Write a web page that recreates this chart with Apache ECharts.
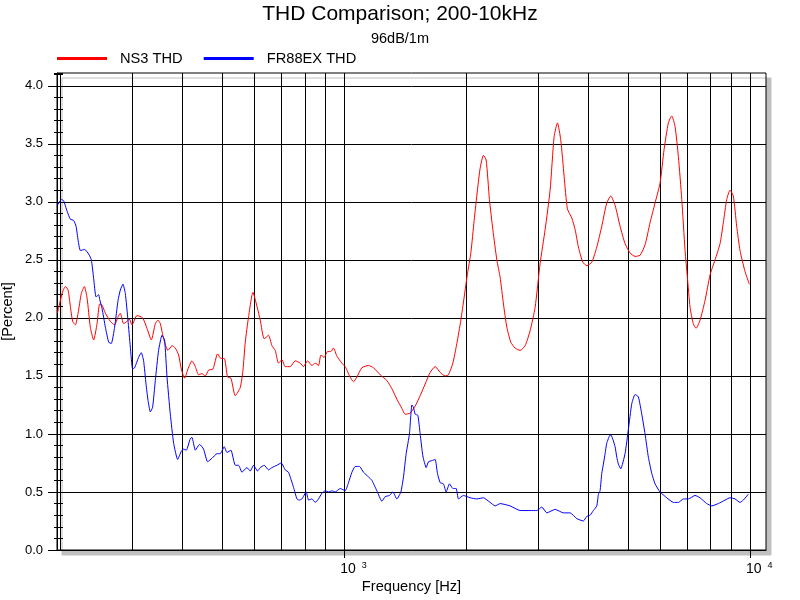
<!DOCTYPE html>
<html>
<head>
<meta charset="utf-8">
<script src="https://cdn.jsdelivr.net/npm/echarts@6/dist/echarts.min.js"></script>
<style>html,body{margin:0;padding:0;background:#fff;}#c{width:800px;height:600px;}</style>
</head>
<body>
<div id="c"></div>
<script>
// ---- data ----
const titleText = 'THD Comparison; 200-10kHz';
const subtitleText = '96dB/1m';
const seriesNames = ['NS3 THD', 'FR88EX THD'];
const seriesColors = ['#ff0000', '#0000ff'];

const ns3Freq = [196.4,198.6,201.7,205.5,208.7,211.4,214.2,217.5,220.9,225.0,228.9,232.5,236.8,241.3,246.0,249.7,253.1,257.9,265.3,271.8,277.1,280.7,286.0,291.6,295.4,300.0,308.6,318.6,326.6,334.7,342.4,347.6,352.3,358.9,368.0,376.4,383.5,390.8,396.8,404.4,412.1,421.6,429.6,437.7,446.2,454.6,463.3,475.0,487.5,496.9,506.3,516.0,525.9,538.9,554.4,563.0,570.4,581.2,595.8,609.5,621.0,635.3,650.9,663.6,676.1,688.9,702.4,715.6,736.2,757.4,779.2,793.8,812.1,832.5,848.4,864.4,876.2,892.8,909.7,927.3,941.1,959.4,987.0,1005.7,1015.4,1030.5,1054.1,1074.7,1105.6,1147.9,1180.8,1226.6,1274.0,1310.6,1348.3,1387.3,1413.3,1454.0,1495.8,1538.8,1583.0,1628.6,1675.3,1723.8,1773.3,1806.6,1852.3,1895.0,1938.4,1975.3,2012.4,2051.6,2090.3,2129.7,2162.7,2203.4,2237.7,2279.8,2324.4,2377.5,2422.4,2468.5,2516.2,2574.0,2637.6,2713.3,2791.5,2871.6,2954.2,3039.3,3126.7,3216.6,3290.3,3353.1,3417.8,3482.8,3548.1,3638.3,3707.4,3777.5,3872.4,3961.3,4075.2,4192.0,4312.4,4436.2,4538.6,4650.6,4784.2,4921.5,5063.0,5208.4,5359.2,5513.2,5671.4,5834.5,6002,6140.6,6291.8,6413,6535,6660,6790,6918,7010,7118,7248,7362,7531,7748,7971,8200,8436,8595,8763,8927,9096,9273,9450,9721,9961];
const ns3Thd = [2.04,2.11,2.21,2.27,2.24,2.10,1.97,1.94,2.04,2.21,2.27,2.17,1.92,1.81,1.95,2.12,2.11,2.04,1.97,1.94,2.01,2.04,1.95,1.97,1.99,1.94,2.02,2.00,1.91,1.81,1.95,1.98,1.95,1.82,1.72,1.76,1.74,1.68,1.56,1.48,1.56,1.63,1.58,1.51,1.52,1.50,1.55,1.56,1.69,1.65,1.65,1.49,1.48,1.33,1.40,1.55,1.79,2.01,2.22,2.10,1.98,1.82,1.85,1.76,1.72,1.61,1.64,1.58,1.58,1.63,1.61,1.58,1.63,1.59,1.61,1.59,1.68,1.66,1.71,1.71,1.74,1.67,1.61,1.58,1.55,1.50,1.45,1.49,1.57,1.59,1.57,1.51,1.46,1.39,1.30,1.22,1.17,1.18,1.24,1.33,1.43,1.53,1.58,1.53,1.50,1.51,1.61,1.78,1.98,2.18,2.38,2.56,2.84,3.10,3.29,3.40,3.36,3.02,2.76,2.50,2.35,2.12,1.92,1.79,1.74,1.72,1.76,1.89,2.09,2.47,2.76,3.10,3.56,3.68,3.53,3.22,2.94,2.86,2.76,2.61,2.48,2.45,2.48,2.61,2.79,2.99,3.05,2.97,2.79,2.64,2.56,2.53,2.54,2.63,2.82,2.99,3.16,3.45,3.68,3.74,3.65,3.39,3.02,2.58,2.35,2.09,1.95,1.91,1.98,2.15,2.37,2.50,2.64,2.82,3.02,3.10,3.05,2.79,2.58,2.40,2.29];

const fr88Freq = [196.4,200.9,203.5,207.5,211.4,215.4,218.4,220.9,223.8,229.3,234.6,238.2,241.3,244.6,248.3,249.7,253.1,257.9,262.8,266.8,271.8,277.1,280.7,285.0,288.8,293.2,297.1,301.0,304.4,311.4,316.2,320.4,324.8,328.5,332.8,337.2,342.4,348.8,355.6,360.9,365.9,372.8,379.9,388.6,396.8,402.0,408.2,417.6,421.6,429.6,440.2,450.2,460.6,472.2,485.9,495.0,506.3,514.2,525.9,538.9,549.1,559.8,575.8,586.7,597.8,611.6,621.0,635.3,650.9,663.6,682.6,699.5,715.6,729.1,750.1,764.7,774.9,786.7,806.1,816.8,832.5,848.4,864.4,881.3,897.9,915.0,932.6,950.2,977.6,1005.7,1024.7,1044.6,1064.3,1090.6,1115.6,1147.9,1170.1,1203.8,1238.5,1261.9,1292.9,1318.1,1348.3,1379.3,1399.9,1421.3,1448.1,1468.0,1481.3,1495.8,1518.8,1538.8,1562.4,1592.1,1612.8,1644.3,1675.3,1697.4,1723.8,1756.2,1783.2,1817.1,1852.3,1887.6,1912.1,1967.0,2043.0,2122.3,2203.4,2288.8,2354.5,2422.4,2563.7,2713.3,2871.6,2982.9,3068.8,3157.5,3309.4,3468.6,3603.7,3743.2,3885.4,3961.3,4036.0,4111.6,4192.0,4230.8,4270.9,4312.4,4352.2,4394.6,4436.2,4520.8,4545.9,4605.9,4650.6,4695.8,4738.2,4803,4921.5,5015.3,5112.1,5208.4,5307.7,5411.3,5513.2,5617,5726.7,5834.5,6002,6234,6474,6660,6851,7047,7320,7531,7822,8048,8354,8678,8927,9186,9450,9627,9903];
const fr88Thd = [2.97,3.02,3.01,2.92,2.85,2.84,2.79,2.67,2.58,2.59,2.55,2.50,2.34,2.18,2.20,2.16,2.08,1.92,1.79,1.78,1.92,2.15,2.24,2.29,2.21,1.98,1.75,1.56,1.57,1.66,1.70,1.63,1.43,1.29,1.19,1.23,1.46,1.72,1.85,1.81,1.49,1.17,0.92,0.78,0.85,0.87,0.86,0.96,0.97,0.86,0.91,0.87,0.76,0.79,0.83,0.83,0.89,0.84,0.86,0.73,0.73,0.67,0.71,0.68,0.73,0.68,0.71,0.73,0.69,0.71,0.73,0.75,0.69,0.67,0.54,0.44,0.43,0.44,0.50,0.43,0.44,0.41,0.44,0.49,0.51,0.50,0.51,0.50,0.53,0.51,0.58,0.67,0.72,0.72,0.67,0.63,0.60,0.51,0.42,0.46,0.47,0.50,0.44,0.50,0.63,0.83,1.00,1.25,1.23,1.17,1.16,1.00,0.81,0.71,0.76,0.77,0.78,0.66,0.58,0.57,0.50,0.57,0.53,0.53,0.44,0.47,0.45,0.44,0.45,0.41,0.38,0.40,0.38,0.34,0.34,0.34,0.37,0.32,0.35,0.32,0.32,0.27,0.25,0.29,0.30,0.34,0.38,0.48,0.51,0.66,0.74,0.83,0.92,0.99,0.99,0.94,0.89,0.80,0.74,0.70,0.83,1.04,1.26,1.34,1.32,1.17,1.00,0.80,0.66,0.57,0.50,0.45,0.41,0.41,0.44,0.44,0.47,0.45,0.40,0.38,0.40,0.43,0.45,0.44,0.41,0.43,0.48];

const xGridValues = [200,300,400,500,600,700,800,900,1000,2000,3000,4000,5000,6000,7000,8000,9000,10000];
const xLabelValues = [1000, 10000];
const yLabelValues = [0,0.5,1.0,1.5,2.0,2.5,3.0,3.5,4.0];
const xMin = 196, xMax = 10950, yMin = 0, yMax = 4.11;
const xName = 'Frequency [Hz]';
const yName = '[Percent]';

// ---- chart ----
const FONT = '"Liberation Sans", Arial, sans-serif';
const zip = (a, b) => a.map((v, i) => [v, b[i]]);
const chart = echarts.init(document.getElementById('c'), null, {renderer: 'canvas'});

function minorAxis(inside, len) {
  return {
    type: 'value', position: 'left', min: yMin, max: yMax, interval: 0.1,
    axisLine: {show: false}, splitLine: {show: false}, axisLabel: {show: false},
    axisTick: {show: true, inside: inside, length: len, lineStyle: {color: '#000', width: 1}}
  };
}

chart.setOption({
  animation: false,
  backgroundColor: '#fff',
  textStyle: {fontFamily: FONT, color: '#000'},
  title: {
    text: titleText, subtext: subtitleText, left: 'center', top: 2, padding: 0, itemGap: 5,
    textStyle: {fontFamily: FONT, fontSize: 21, fontWeight: 'normal', color: '#000', lineHeight: 24},
    subtextStyle: {fontFamily: FONT, fontSize: 14.5, color: '#000', lineHeight: 16}
  },
  legend: {
    left: 57, top: 51, padding: 0, itemGap: 21, itemWidth: 50, itemHeight: 3, icon: 'rect',
    data: seriesNames,
    formatter: n => '{t|' + n + '}',
    textStyle: {fontFamily: FONT, fontSize: 14.67, color: '#000',
      rich: {t: {fontFamily: FONT, fontSize: 14.67, color: '#000', padding: [0, 0, 0, 8]}}}
  },
  grid: {
    left: 57, right: 34, top: 73, bottom: 50, show: true, containLabel: false, outerBoundsMode: 'none',
    backgroundColor: '#fff', borderColor: '#000', borderWidth: 1,
    shadowColor: '#c0c0c0', shadowBlur: 0, shadowOffsetX: 5, shadowOffsetY: 5
  },
  xAxis: {
    type: 'log', logBase: 10, min: xMin, max: xMax,
    name: xName, nameLocation: 'middle', nameGap: 29, nameMoveOverlap: false,
    nameTextStyle: {fontFamily: FONT, fontSize: 14.67, color: '#000'},
    axisLine: {show: true, lineStyle: {color: '#000', width: 1}},
    axisTick: {show: true, length: 8, customValues: xLabelValues, lineStyle: {color: '#000', width: 1}},
    splitLine: {show: false},
    axisLabel: {
      customValues: xLabelValues, align: 'left', margin: 11, color: '#000', padding: [0, 0, 0, -4],
      formatter: v => '{a|10}{b|' + Math.round(Math.log10(v)) + '}',
      rich: {
        a: {fontFamily: FONT, fontSize: 14, color: '#000', lineHeight: 16},
        b: {fontFamily: FONT, fontSize: 9, color: '#000', verticalAlign: 'top', padding: [0, 0, 0, 6], lineHeight: 16}
      }
    }
  },
  yAxis: [
    {
      type: 'value', position: 'left', min: yMin, max: yMax, interval: 0.5,
      name: yName, nameLocation: 'middle', nameGap: 42, nameRotate: 90, nameMoveOverlap: false,
      nameTextStyle: {fontFamily: FONT, fontSize: 14.67, color: '#000'},
      axisLine: {show: true, lineStyle: {color: '#000', width: 1}},
      axisTick: {show: true, length: 9, customValues: yLabelValues, lineStyle: {color: '#000', width: 1}},
      splitLine: {show: true, lineStyle: {color: '#000', width: 1}},
      axisLabel: {customValues: yLabelValues, margin: 14, fontFamily: FONT, fontSize: 13, color: '#000',
        formatter: v => v.toFixed(1)}
    },
    minorAxis(true, 6),
    minorAxis(false, 3)
  ],
  series: [
    {
      name: 'grid', type: 'line', data: [], silent: true, z: 1,
      markLine: {
        silent: true, symbol: ['none', 'none'], z: 1, animation: false,
        label: {show: false},
        lineStyle: {color: '#000', width: 1, type: 'solid'},
        emphasis: {disabled: true},
        data: xGridValues.map(v => ({xAxis: v}))
      }
    },
    {
      name: seriesNames[0], type: 'line', data: zip(ns3Freq, ns3Thd), showSymbol: false, z: 3,
      smooth: 0.2, color: seriesColors[0], lineStyle: {color: seriesColors[0], width: 1}
    },
    {
      name: seriesNames[1], type: 'line', data: zip(fr88Freq, fr88Thd), showSymbol: false, z: 4,
      smooth: 0.15, color: seriesColors[1], lineStyle: {color: seriesColors[1], width: 1}
    }
  ]
});
</script>
</body>
</html>
